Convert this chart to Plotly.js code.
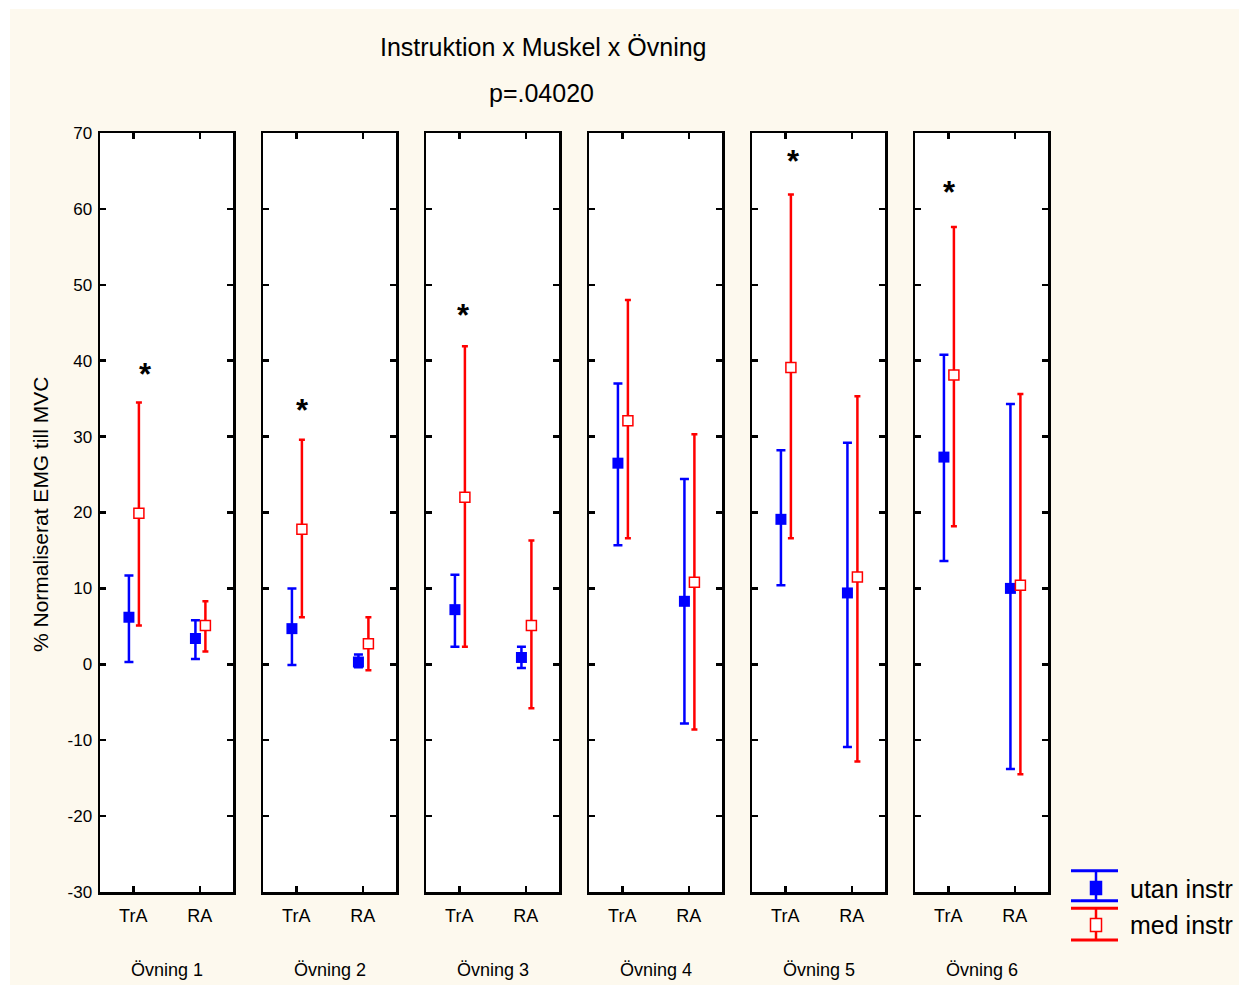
<!DOCTYPE html>
<html><head><meta charset="utf-8">
<script src="https://cdn.plot.ly/plotly-3.0.1.min.js"></script>
<style>
html,body{margin:0;padding:0;background:#ffffff;}
#chart{position:absolute;left:10px;top:9px;width:1229px;height:976px;}
</style>
</head><body><div id="chart"></div>
<script>
// ---- data ----
const exercises = ['Övning 1', 'Övning 2', 'Övning 3', 'Övning 4', 'Övning 5', 'Övning 6'];
const muscles = ['TrA', 'RA'];
const seriesNames = ['utan instr', 'med instr'];

// utan instr (blue, filled)
const utanMean  = [[6.2, 3.4], [4.7, 0.3], [7.2, 0.9], [26.5, 8.3], [19.1, 9.4], [27.3, 10.0]];
const utanUpper = [[11.7, 5.8], [10.0, 1.3], [11.8, 2.3], [37.0, 24.4], [28.2, 29.2], [40.8, 34.3]];
const utanLower = [[0.3, 0.7], [-0.1, -0.4], [2.3, -0.5], [15.7, -7.8], [10.4, -10.9], [13.6, -13.8]];

// med instr (red, open)
const medMean  = [[19.9, 5.1], [17.8, 2.7], [22.0, 5.1], [32.1, 10.8], [39.1, 11.5], [38.1, 10.4]];
const medUpper = [[34.5, 8.3], [29.6, 6.2], [41.9, 16.3], [48.0, 30.3], [61.9, 35.3], [57.6, 35.6]];
const medLower = [[5.1, 1.7], [6.2, -0.8], [2.3, -5.8], [16.6, -8.6], [16.6, -12.8], [18.2, -14.5]];

// significance stars (value level per exercise, null = none)
const starY = [38.6, 33.8, 46.3, null, 66.7, 62.5];
const starX = [0.19, 0.09, 0.07, null, 0.12, 0.02];

const yTickVals = [-30, -20, -10, 0, 10, 20, 30, 40, 50, 60, 70];
const yTickText = ['-30', '-20', '-10', '0', '10', '20', '30', '40', '50', '60', '70'];

const titleText = 'Instruktion x Muskel x Övning';
const pText = 'p=.04020';
const yTitle = '% Normaliserat EMG till MVC';

// ---- styling / layout helpers ----
const FONT = 'Liberation Sans, Arial, Helvetica, sans-serif';
const BLUE = '#0000FF', RED = '#FF0000';
const PW = 948, PH = 759;               // plot-area size in px
const pxX = v => (v - 100) / PW;        // page px -> paper x
const pxY = v => (892 - v) / PH;        // page px -> paper y
const blueOff = -0.065, redOff = 0.085;

const traces = [];
const layout = {
  width: 1229, height: 976,
  margin: {l: 90, r: 191, t: 124, b: 93},
  paper_bgcolor: '#FDF9EE',
  plot_bgcolor: '#FFFFFF',
  showlegend: false,
  font: {family: FONT, color: '#000'},
  annotations: [],
  shapes: []
};

exercises.forEach((ex, i) => {
  const xa = i === 0 ? 'x' : 'x' + (i + 1);
  const ya = i === 0 ? 'y' : 'y' + (i + 1);
  const d0 = 163 * i / PW, d1 = (163 * i + 133) / PW;

  traces.push({
    type: 'scatter', mode: 'markers', name: seriesNames[0], xaxis: xa, yaxis: ya,
    x: muscles.map((m, j) => j + blueOff), y: utanMean[i], text: muscles,
    marker: {symbol: 'square', size: 11, color: BLUE},
    error_y: {type: 'data', symmetric: false,
      array: utanUpper[i].map((u, j) => u - utanMean[i][j]),
      arrayminus: utanLower[i].map((l, j) => utanMean[i][j] - l),
      color: BLUE, thickness: 2.5, width: 4.5}
  });
  traces.push({
    type: 'scatter', mode: 'markers', name: seriesNames[1], xaxis: xa, yaxis: ya,
    x: muscles.map((m, j) => j + redOff), y: medMean[i], text: muscles,
    marker: {symbol: 'square', size: 10, color: '#FFFFFF', line: {color: RED, width: 1.5}},
    error_y: {type: 'data', symmetric: false,
      array: medUpper[i].map((u, j) => u - medMean[i][j]),
      arrayminus: medLower[i].map((l, j) => medMean[i][j] - l),
      color: RED, thickness: 2.5, width: 3}
  });

  const xkey = i === 0 ? 'xaxis' : 'xaxis' + (i + 1);
  const ykey = i === 0 ? 'yaxis' : 'yaxis' + (i + 1);
  layout[xkey] = {
    domain: [d0, d1], anchor: ya, range: [-0.5, 1.5],
    tickmode: 'array', tickvals: muscles.map((m, j) => j), ticktext: muscles,
    ticks: 'inside', ticklen: 6, tickwidth: 2.5, tickcolor: '#000',
    showline: true, linewidth: 2.5, linecolor: '#000', mirror: 'ticks',
    showgrid: false, zeroline: false, fixedrange: true,
    tickfont: {family: FONT, size: 18, color: '#000'}, ticklabelstandoff: 6
  };
  layout[ykey] = {
    domain: [0, 1], anchor: xa, range: [-30, 70],
    tickmode: 'array', tickvals: yTickVals, ticktext: yTickText,
    showticklabels: i === 0,
    ticks: 'inside', ticklen: 6, tickwidth: 2.5, tickcolor: '#000',
    showline: true, linewidth: 2.5, linecolor: '#000', mirror: 'ticks',
    showgrid: false, zeroline: false, fixedrange: true,
    tickfont: {family: FONT, size: 17, color: '#000'}, ticklabelstandoff: 2
  };

  layout.annotations.push({
    xref: 'paper', yref: 'paper', x: (d0 + d1) / 2, y: pxY(970),
    xanchor: 'center', yanchor: 'middle', showarrow: false,
    text: ex, font: {family: FONT, size: 18, color: '#000'}
  });

  if (starY[i] !== null) {
    layout.annotations.push({
      xref: xa, yref: ya, x: starX[i], y: starY[i],
      xanchor: 'center', yanchor: 'middle', showarrow: false, yshift: -3,
      text: '<b>*</b>', font: {family: FONT, size: 31, color: '#000'}
    });
  }
});

// titles
layout.annotations.push({
  xref: 'paper', yref: 'paper', x: pxX(543), y: pxY(47), xanchor: 'center', yanchor: 'middle',
  showarrow: false, text: titleText, font: {family: FONT, size: 25, color: '#000'}
});
layout.annotations.push({
  xref: 'paper', yref: 'paper', x: pxX(541), y: pxY(93), xanchor: 'center', yanchor: 'middle',
  showarrow: false, text: pText, font: {family: FONT, size: 25, color: '#000'}
});
layout.annotations.push({
  xref: 'paper', yref: 'paper', x: pxX(40), y: pxY(515), xanchor: 'center', yanchor: 'middle',
  showarrow: false, textangle: -90, text: yTitle, font: {family: FONT, size: 21, color: '#000'}
});

// legend (custom icons drawn as shapes, labels as text)
const legendItems = [
  {name: seriesNames[0], color: BLUE, fill: BLUE, capTop: 870.7, capBot: 900.7, mid: 888, textY: 889},
  {name: seriesNames[1], color: RED, fill: '#FFFFFF', capTop: 908.3, capBot: 940, mid: 925, textY: 925}
];
legendItems.forEach(it => {
  const line = {color: it.color, width: 3};
  layout.shapes.push({type: 'line', xref: 'paper', yref: 'paper', x0: pxX(1071), x1: pxX(1118), y0: pxY(it.capTop), y1: pxY(it.capTop), line});
  layout.shapes.push({type: 'line', xref: 'paper', yref: 'paper', x0: pxX(1071), x1: pxX(1118), y0: pxY(it.capBot), y1: pxY(it.capBot), line});
  layout.shapes.push({type: 'line', xref: 'paper', yref: 'paper', x0: pxX(1096), x1: pxX(1096), y0: pxY(it.capTop), y1: pxY(it.capBot), line: {color: it.color, width: 2.5}});
  layout.shapes.push({type: 'rect', xref: 'paper', yref: 'paper', x0: pxX(1090.5), x1: pxX(1101.5), y0: pxY(it.mid - 6.5), y1: pxY(it.mid + 6.5),
    fillcolor: it.fill, line: {color: it.color, width: 1.5}});
  layout.annotations.push({
    xref: 'paper', yref: 'paper', x: pxX(1128), y: pxY(it.textY), xanchor: 'left', yanchor: 'middle',
    showarrow: false, text: it.name, font: {family: FONT, size: 25, color: '#000'}
  });
});

Plotly.newPlot('chart', traces, layout, {displayModeBar: false, staticPlot: true});
</script>
</body></html>
